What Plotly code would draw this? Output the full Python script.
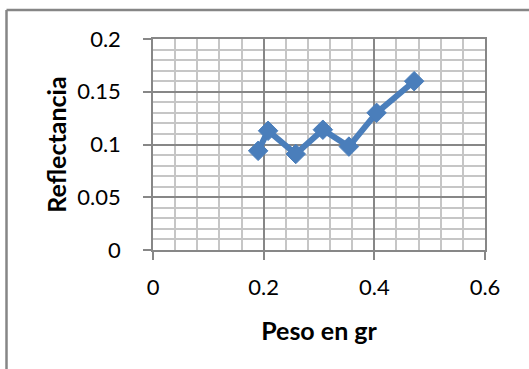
import plotly.graph_objects as go

# Measured samples: weight (g) vs reflectance
peso = [0.190, 0.208, 0.258, 0.307, 0.354, 0.404, 0.472]
reflectancia = [0.094, 0.113, 0.091, 0.114, 0.098, 0.130, 0.160]

x_ticks = [0, 0.2, 0.4, 0.6]
x_tick_text = ["0", "0.2", "0.4", "0.6"]
y_ticks = [0, 0.05, 0.1, 0.15, 0.2]
y_tick_text = ["0", "0.05", "0.1", "0.15", "0.2"]

W, H = 529, 369
M_L, M_R, M_T, M_B = 153, 44, 39, 119
PLOT_W = W - M_L - M_R
PLOT_H = H - M_T - M_B

FONT = "Lato, 'Open Sans', sans-serif"
SERIES = "#4A7EBB"
MAJOR = "#878787"
MINOR = "#c6c6c6"

fig = go.Figure(
    go.Scatter(
        x=peso,
        y=reflectancia,
        mode="lines+markers",
        line=dict(color=SERIES, width=6),
        marker=dict(symbol="diamond", size=15, color=SERIES,
                    line=dict(color=SERIES, width=1)),
        showlegend=False,
        cliponaxis=False,
    )
)

axis_common = dict(
    showline=True,
    linecolor=MAJOR,
    linewidth=1.5,
    mirror=True,
    showgrid=True,
    gridcolor=MAJOR,
    gridwidth=1.5,
    zeroline=False,
    ticks="outside",
    ticklen=8,
    tickwidth=1.5,
    tickcolor=MAJOR,
    tickmode="array",
    tickfont=dict(family=FONT, size=22, color="#000000"),
)

fig.update_xaxes(
    **axis_common,
    range=[0, 0.6],
    tickvals=x_ticks,
    ticktext=x_tick_text,
    ticklabelstandoff=9,
    minor=dict(dtick=0.04, showgrid=True, gridcolor=MINOR, gridwidth=1.5),
    title=dict(text="<b>Peso en gr</b>", standoff=23,
               font=dict(family=FONT, size=25, color="#000000")),
)
fig.update_yaxes(
    **axis_common,
    range=[0, 0.2],
    tickvals=y_ticks,
    ticktext=y_tick_text,
    ticklabelstandoff=18,
    minor=dict(dtick=0.01, showgrid=True, gridcolor=MINOR, gridwidth=1.5),
    title=dict(text="<b>Reflectancia</b>", standoff=4,
               font=dict(family=FONT, size=25, color="#000000")),
)

# Outer chart-area frame (left and top edges visible in the window)
fx0 = (6.5 - M_L) / PLOT_W
fy1 = (M_T + PLOT_H - 10) / PLOT_H
frame = dict(type="line", xref="paper", yref="paper",
             line=dict(color="#868686", width=2.5))
fig.add_shape(**frame, x0=fx0, x1=fx0, y0=-2, y1=fy1)
fig.add_shape(**frame, x0=fx0, x1=3, y0=fy1, y1=fy1)

fig.update_layout(
    width=W,
    height=H,
    margin=dict(l=M_L, r=M_R, t=M_T, b=M_B),
    paper_bgcolor="white",
    plot_bgcolor="white",
    font=dict(family=FONT),
)

fig.write_html("out.html")
